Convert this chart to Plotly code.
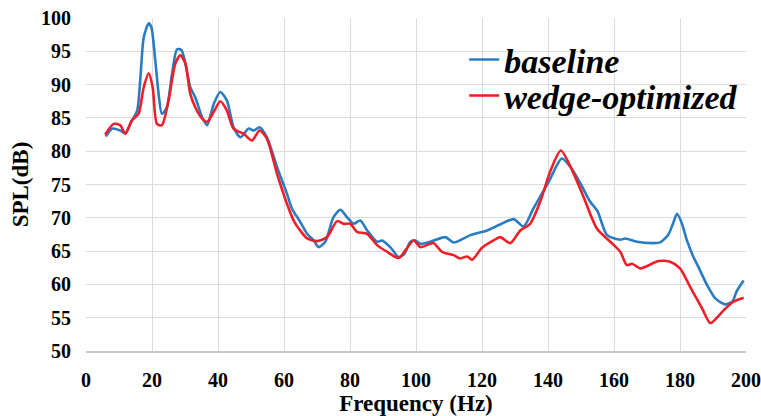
import plotly.graph_objects as go

# Baseline SPL spectrum
baseline_freq = [6, 8, 10.4, 11.9, 13.9, 15.5, 16.5, 17.5, 19, 19.8, 21, 22, 23, 24.5,
                 26.1, 27.6, 28.9, 30.1, 31.6, 33.1, 35.2, 36.7, 38.7, 40.7, 42.7, 44.7,
                 46.8, 49.3, 50.8, 52.6, 54.8, 57.9, 60.9, 62.4, 64.9, 67, 69, 70.5, 72.5,
                 75, 77.1, 79.1, 81.1, 83.1, 85.2, 88.2, 89.7, 92.2, 94.7, 96.5, 98.3,
                 99.8, 101.3, 104.3, 108.9, 111.4, 116.5, 121.5, 125.5, 129.6, 132.6,
                 135.6, 140.2, 144.2, 147, 150, 152.8, 155, 157.9, 161.9, 163.4, 167,
                 171.5, 174, 176.5, 178, 179.1, 180.6, 182.1, 184, 185.6, 188.2, 190.7,
                 193.7, 195.8, 197.3, 199.3]
baseline_spl = [82.2, 83.4, 83.1, 82.7, 84.6, 86.1, 91.1, 97.1, 99.2, 98.6, 93.6, 88.6, 85.6, 86.6,
                91.7, 95.3, 95.2, 93.2, 89.6, 88.1, 85.1, 83.9, 87.1, 88.9, 87.6, 83.6,
                82.1, 83.4, 83.1, 83.6, 82.1, 77.6, 73.6, 71.4, 69.4, 67.6, 66.6, 65.6, 66.4,
                70.1, 71.2, 70.1, 69.1, 69.6, 68.1, 66.4, 66.6, 65.6, 64.1, 64.6, 66.4,
                66.6, 66.1, 66.4, 67.1, 66.3, 67.4, 68.1, 69.0, 69.8, 68.7,
                71.4, 75.4, 78.9, 77.5, 75.0, 72.4, 71.0, 67.4, 66.7, 66.9, 66.4,
                66.2, 66.3, 67.5, 69.3, 70.6, 69.1, 66.6, 64.2, 62.6, 59.9, 57.9,
                57.0, 57.4, 59.1, 60.6]

# Wedge-optimized SPL spectrum
wedge_freq = [5.8, 8.4, 10.4, 11.9, 13.9, 15.9, 17.5, 19, 20.2, 21.5, 23, 25, 27.1, 28.6,
              30.1, 31.6, 33.1, 35.2, 36.7, 38.7, 40.7, 42.7, 44.7, 47.8, 50.3, 52.6,
              54.8, 57.9, 60.9, 63, 64.9, 67, 70, 73, 76.1, 78.1, 80.1, 82.1, 85.2, 88.2,
              91.2, 94.2, 95.2, 99.3, 101.3, 104.3, 105.3, 107.9, 111.4, 113.4, 115.5,
              117, 120, 123.5, 125.5, 128.6, 131.6, 134.6, 137.7, 140.7, 143.9, 147.8,
              150.8, 154.8, 158.9, 161.9, 163.9, 165.5, 168, 173.5, 177, 180, 183.1,
              186.7, 189.2, 193.2, 196.2, 199.3]
wedge_spl = [82.5, 84.1, 83.9, 82.6, 84.6, 85.6, 89.6, 91.7, 89.6, 84.1, 83.9, 87.6, 93.2, 94.4,
             93.2, 88.6, 86.6, 84.9, 84.4, 85.9, 87.5, 86.1, 83.4, 82.6, 81.6, 83.1,
             81.9, 76.6, 72.1, 69.5, 68.1, 66.9, 66.5, 67.1, 69.5, 69.1, 69.1, 67.9, 67.6, 65.9,
             64.9, 64.0, 64.1, 66.6, 65.6, 66.1, 66.2, 64.9, 64.4, 63.9, 64.2,
             63.7, 65.5, 66.6, 67.1, 66.2, 68.1, 69.1, 72.5, 77.0, 80.1, 76.6,
             73.1, 68.4, 66.4, 64.9, 62.9, 63.1, 62.4, 63.5, 63.4, 62.4, 59.6,
             56.4, 54.2, 56.1, 57.4, 58.0]

x_ticks = [0, 20, 40, 60, 80, 100, 120, 140, 160, 180, 200]
y_ticks = [50, 55, 60, 65, 70, 75, 80, 85, 90, 95, 100]

SERIF = "'Times New Roman', 'Liberation Serif', 'DejaVu Serif', serif"
GRID = "#dcdcdc"
LEGEND_FONT = dict(family=SERIF, size=34, weight="bold", style="italic", color="black")

fig = go.Figure()
fig.add_trace(go.Scatter(
    x=baseline_freq, y=baseline_spl, name="baseline", mode="lines",
    line=dict(color="#2a7cc2", width=2.6, shape="spline", smoothing=0.7),
    legend="legend",
))
fig.add_trace(go.Scatter(
    x=wedge_freq, y=wedge_spl, name="wedge-optimized", mode="lines",
    line=dict(color="#f01e28", width=2.6, shape="spline", smoothing=0.7),
    legend="legend2",
))

fig.update_layout(
    width=761, height=416,
    margin=dict(l=86, r=15, t=18, b=65),
    paper_bgcolor="white", plot_bgcolor="white",
    font=dict(family=SERIF, color="black"),
    showlegend=True,
    legend=dict(
        x=0.573, y=0.874, xanchor="left", yanchor="middle",
        bgcolor="rgba(0,0,0,0)", font=LEGEND_FONT, itemwidth=30,
    ),
    legend2=dict(
        x=0.573, y=0.766, xanchor="left", yanchor="middle",
        bgcolor="rgba(0,0,0,0)", font=LEGEND_FONT, itemwidth=30,
    ),
    xaxis=dict(
        range=[0, 200], tickvals=x_ticks, ticktext=[str(v) for v in x_ticks],
        showgrid=True, gridcolor=GRID, gridwidth=1.2,
        showline=True, linecolor="#c8c8c8", linewidth=1.5,
        zeroline=False, ticks="", ticklabelstandoff=10, automargin=False,
        tickfont=dict(family=SERIF, size=20, weight="bold"),
        title=dict(text="Frequency (Hz)", standoff=8,
                   font=dict(family=SERIF, size=23, weight="bold")),
    ),
    yaxis=dict(
        range=[50, 100], tickvals=y_ticks, ticktext=[str(v) for v in y_ticks],
        showgrid=True, gridcolor=GRID, gridwidth=1.2,
        showline=False, zeroline=False, ticks="", ticklabelstandoff=14, automargin=False,
        tickfont=dict(family=SERIF, size=20, weight="bold"),
        title=dict(text="SPL(dB)", standoff=5,
                   font=dict(family=SERIF, size=23, weight="bold")),
    ),
)

fig.write_html("out.html")
